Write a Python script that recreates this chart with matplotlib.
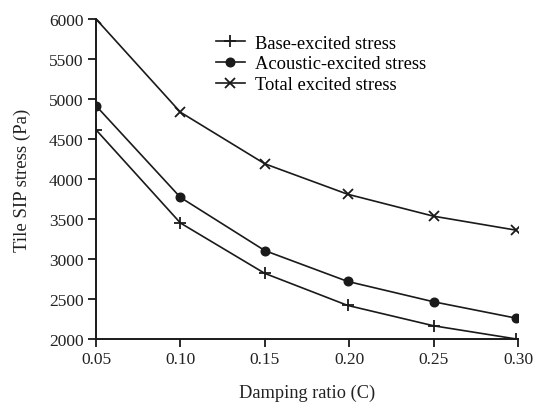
import matplotlib
matplotlib.use("Agg")
import matplotlib.pyplot as plt

plt.rcParams['font.family'] = ['Liberation Serif', 'DejaVu Serif']

damping = [0.05, 0.10, 0.15, 0.199, 0.25, 0.299]
base_stress = [4615, 3450, 2820, 2420, 2165, 2000]
acoustic_stress = [4915, 3770, 3105, 2720, 2465, 2260]
total_stress = [6000, 4835, 4190, 3810, 3535, 3360]

x_ticks = [0.05, 0.10, 0.15, 0.20, 0.25, 0.30]
x_tick_labels = ["0.05", "0.10", "0.15", "0.20", "0.25", "0.30"]
y_ticks = [2000, 2500, 3000, 3500, 4000, 4500, 5000, 5500, 6000]

fig = plt.figure(figsize=(5.44, 4.06), dpi=100)
ax = fig.add_axes([0.1765, 0.1626, 0.7757, 0.7881])

lw = 1.2
ax.plot(damping, base_stress, color='#1a1a1a', lw=lw, marker='+', ms=8, mew=1.3,
        label='Base-excited stress')
ax.plot(damping, acoustic_stress, color='#1a1a1a', lw=lw, marker='o', ms=6.2,
        label='Acoustic-excited stress')
ax.plot(damping, total_stress, color='#1a1a1a', lw=lw, marker='x', ms=7, mew=1.3,
        label='Total excited stress')

ax.set_xlim(0.05, 0.30)
ax.set_ylim(2000, 6000)
ax.set_xticks(x_ticks)
ax.set_xticklabels(x_tick_labels)
ax.set_yticks(y_ticks)

for side in ('top', 'right'):
    ax.spines[side].set_visible(False)
for side in ('left', 'bottom'):
    ax.spines[side].set_linewidth(1.4)
    ax.spines[side].set_color('#1a1a1a')

ax.tick_params(direction='out', length=6, width=1.3, labelsize=12.5,
               colors='#1a1a1a', pad=3)
for lbl in ax.get_xticklabels() + ax.get_yticklabels():
    lbl.set_color('#222222')

ax.set_xlabel('Damping ratio (C)', fontsize=13.2, color='#222222', labelpad=12)
ax.set_ylabel('Tile SIP stress (Pa)', fontsize=13.5, color='#222222', labelpad=13)

ax.legend(loc='upper left', bbox_to_anchor=(0.266, 0.974), frameon=False,
          fontsize=13.3, handlelength=1.6, handletextpad=0.55, labelspacing=0.2,
          borderaxespad=0)

fig.savefig('out.png', dpi=100)
